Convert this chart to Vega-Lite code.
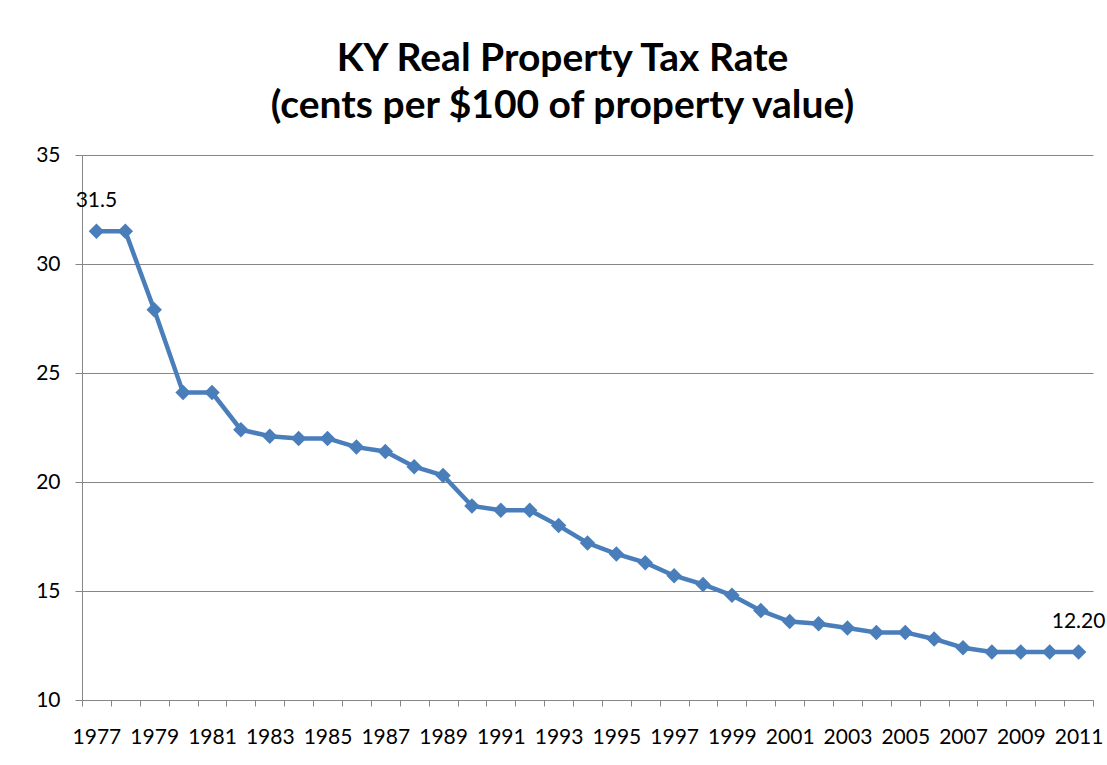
{
  "$schema": "https://vega.github.io/schema/vega-lite/v6.json",
  "autosize": "none",
  "padding": {"left": 82, "top": 155, "right": 14, "bottom": 65},
  "width": 1011,
  "height": 545,
  "background": "white",
  "title": {
    "text": ["KY Real Property Tax Rate", "(cents per $100 of property value)"],
    "font": "Lato",
    "fontSize": 39,
    "fontWeight": "bold",
    "color": "black",
    "lineHeight": 47,
    "anchor": "middle",
    "dx": -25,
    "offset": 18
  },
  "data": {
    "values": [
      {"year": 1977, "rate": 31.5},
      {"year": 1978, "rate": 31.5},
      {"year": 1979, "rate": 27.9},
      {"year": 1980, "rate": 24.1},
      {"year": 1981, "rate": 24.1},
      {"year": 1982, "rate": 22.4},
      {"year": 1983, "rate": 22.1},
      {"year": 1984, "rate": 22.0},
      {"year": 1985, "rate": 22.0},
      {"year": 1986, "rate": 21.6},
      {"year": 1987, "rate": 21.4},
      {"year": 1988, "rate": 20.7},
      {"year": 1989, "rate": 20.3},
      {"year": 1990, "rate": 18.9},
      {"year": 1991, "rate": 18.7},
      {"year": 1992, "rate": 18.7},
      {"year": 1993, "rate": 18.0},
      {"year": 1994, "rate": 17.2},
      {"year": 1995, "rate": 16.7},
      {"year": 1996, "rate": 16.3},
      {"year": 1997, "rate": 15.7},
      {"year": 1998, "rate": 15.3},
      {"year": 1999, "rate": 14.8},
      {"year": 2000, "rate": 14.1},
      {"year": 2001, "rate": 13.6},
      {"year": 2002, "rate": 13.5},
      {"year": 2003, "rate": 13.3},
      {"year": 2004, "rate": 13.1},
      {"year": 2005, "rate": 13.1},
      {"year": 2006, "rate": 12.8},
      {"year": 2007, "rate": 12.4},
      {"year": 2008, "rate": 12.2},
      {"year": 2009, "rate": 12.2},
      {"year": 2010, "rate": 12.2},
      {"year": 2011, "rate": 12.2}
    ]
  },
  "encoding": {
    "x": {
      "field": "year",
      "type": "ordinal",
      "scale": {"type": "band", "paddingInner": 0, "paddingOuter": 0},
      "axis": {
        "title": null,
        "labelAngle": 0,
        "labelFont": "Lato",
        "labelFontSize": 21,
        "labelColor": "black",
        "labelOverlap": false,
        "labelPadding": 20,
        "labelExpr": "(datum.value - 1977) % 2 == 0 ? datum.label : ''",
        "tickBand": "extent",
        "tickSize": 6,
        "tickColor": "#868686",
        "domainColor": "#868686",
        "grid": false
      }
    },
    "y": {
      "field": "rate",
      "type": "quantitative",
      "scale": {"domain": [10, 35], "nice": false, "zero": false},
      "axis": {
        "title": null,
        "values": [10, 15, 20, 25, 30, 35],
        "labelFont": "Lato",
        "labelFontSize": 21,
        "labelColor": "black",
        "labelPadding": 15,
        "tickSize": 7,
        "tickColor": "#868686",
        "domainColor": "#868686",
        "gridColor": "#868686",
        "grid": true
      }
    }
  },
  "layer": [
    {
      "mark": {"type": "line", "color": "#4A7EBB", "strokeWidth": 4.5},
      "encoding": {}
    },
    {
      "mark": {"type": "point", "shape": "diamond", "filled": true, "size": 240, "color": "#4A7EBB", "opacity": 1},
      "encoding": {}
    },
    {
      "transform": [{"filter": "datum.year == 1977 || datum.year == 2011"}],
      "mark": {"type": "text", "font": "Lato", "fontSize": 21, "color": "black", "baseline": "alphabetic", "dy": -24},
      "encoding": {
        "text": {"condition": {"test": "datum.year == 2011", "value": "12.20"}, "field": "rate", "type": "quantitative", "format": ".1f"}
      }
    }
  ],
  "config": {"view": {"stroke": null}}
}
